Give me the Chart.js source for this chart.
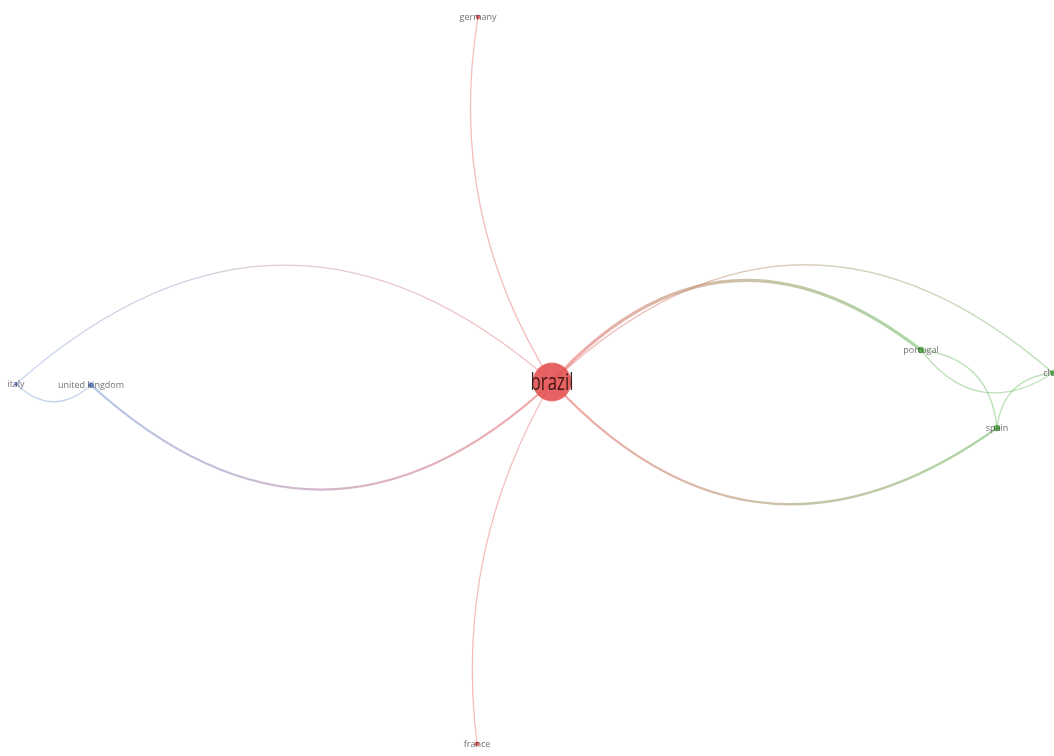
<!DOCTYPE html>
<html><head><meta charset="utf-8">
<script src="https://cdn.jsdelivr.net/npm/chart.js@4.4.1/dist/chart.umd.min.js"></script>
<style>html,body{margin:0;padding:0;background:#fff}#wrap{width:1054px;height:756px;position:relative}</style>
</head><body><div id="wrap"><canvas id="c"></canvas></div>
<script>
// nodes
const nodeNames = ['brazil','germany','france','italy','united kingdom','portugal','spain','chile'];
const nodeX = [552, 478, 477, 16, 91, 921, 997, 1053];
const nodeY = [382, 17, 744, 384, 385, 350, 428, 373];
const nodeSize = [19, 2, 2, 1.5, 2.5, 3, 3, 2.5];
const nodeCluster = [0, 0, 0, 1, 1, 2, 2, 2];
// edges (source -> target, curving to the right of travel)
const edgeSource = [1, 0, 0, 4, 3, 5, 7, 0, 6, 5, 7];
const edgeTarget = [0, 2, 3, 0, 4, 0, 0, 6, 5, 7, 6];
const edgeWeight = [1.3, 1.3, 1.3, 2.2, 1.3, 3, 1.6, 2.2, 1.5, 1.3, 1.3];
const edgeBend = [0.095, 0.085, 0.22, 0.23, 0.23, 0.23, 0.225, 0.22, 0.2, 0.23, 0.2];

const clusterColors = [[228,82,82],[104,140,212],[88,176,78]];
function rgba(c,a){return 'rgba('+c[0]+','+c[1]+','+c[2]+','+a+')';}

const edgePlugin = {
  id:'edges',
  beforeDatasetsDraw(chart){
    const {ctx, scales:{x, y}} = chart;
    ctx.save();
    ctx.lineCap = 'round';
    for (let i=0;i<edgeSource.length;i++){
      const s=edgeSource[i], t=edgeTarget[i];
      const x1=x.getPixelForValue(nodeX[s]), y1=y.getPixelForValue(nodeY[s]);
      const x2=x.getPixelForValue(nodeX[t]), y2=y.getPixelForValue(nodeY[t]);
      const dx=x2-x1, dy=y2-y1;
      const k=2*edgeBend[i];
      const cx=(x1+x2)/2 - dy*k, cy=(y1+y2)/2 + dx*k;
      const g=ctx.createLinearGradient(x1,y1,x2,y2);
      const a = edgeWeight[i]>2 ? 0.5 : 0.38;
      g.addColorStop(0, rgba(clusterColors[nodeCluster[s]], a));
      g.addColorStop(1, rgba(clusterColors[nodeCluster[t]], a));
      ctx.strokeStyle=g;
      ctx.lineWidth=edgeWeight[i];
      ctx.beginPath();
      ctx.moveTo(x1,y1);
      ctx.quadraticCurveTo(cx,cy,x2,y2);
      ctx.stroke();
    }
    ctx.restore();
  }
};

const labelPlugin = {
  id:'labels',
  afterDatasetsDraw(chart){
    const {ctx, scales:{x, y}} = chart;
    ctx.save();
    ctx.textAlign='center';
    ctx.textBaseline='middle';
    for (let i=0;i<nodeNames.length;i++){
      const px=x.getPixelForValue(nodeX[i]), py=y.getPixelForValue(nodeY[i]);
      if (i===0){
        ctx.save();
        ctx.translate(px, py);
        ctx.scale(0.7,1);
        ctx.font='24px "Open Sans", sans-serif';
        ctx.fillStyle='rgba(45,15,15,0.9)';
        ctx.fillText(nodeNames[i],0,1);
        ctx.restore();
      } else {
        ctx.font='9px "Open Sans", sans-serif';
        ctx.fillStyle='rgba(50,50,50,0.7)';
        ctx.fillText(nodeNames[i],px,py);
      }
    }
    ctx.restore();
  }
};

new Chart(document.getElementById('c'), {
  type:'scatter',
  data:{
    datasets:[{
      data: nodeX.map((v,i)=>({x:v,y:nodeY[i]})),
      pointRadius: nodeSize,
      pointHoverRadius: nodeSize,
      pointBackgroundColor: nodeCluster.map(c=>rgba(clusterColors[c],0.9)),
      pointBorderColor: nodeCluster.map(c=>rgba(clusterColors[c],0.6)),
      pointBorderWidth: 1,
      clip: false
    }]
  },
  options:{
    responsive:true,
    maintainAspectRatio:false,
    animation:false,
    layout:{padding:0, autoPadding:false},
    plugins:{legend:{display:false},tooltip:{enabled:false}},
    scales:{
      x:{type:'linear',min:0,max:1054,display:false},
      y:{type:'linear',min:0,max:756,reverse:true,display:false}
    }
  },
  plugins:[edgePlugin,labelPlugin]
});
</script>
</body></html>
